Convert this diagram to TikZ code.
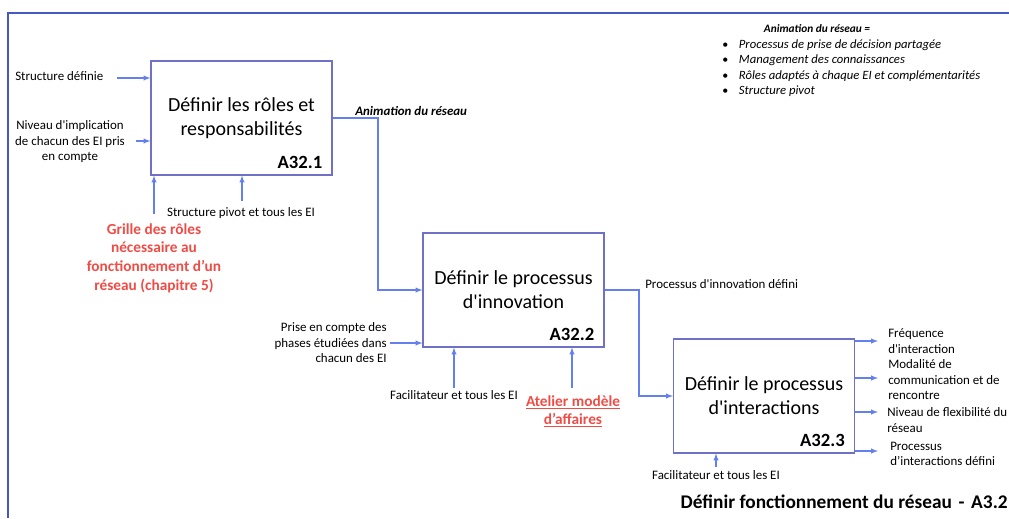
\documentclass[tikz,border=0pt]{standalone}
\usepackage{fontspec}
\setmainfont{Carlito}
\usepackage{tikz}
\usetikzlibrary{positioning}
\usetikzlibrary{arrows}
\usetikzlibrary{calc}

\definecolor{boxblue}{RGB}{112,112,200}
\definecolor{arrowblue}{RGB}{100,128,240}
\definecolor{frameblue}{RGB}{70,88,196}
\definecolor{refred}{RGB}{240,76,70}
\newcommand{\sq}{\textquotesingle}

\begin{document}
\begin{tikzpicture}[x=0.75pt,y=-0.75pt,>=latex,
  activity/.style={draw=boxblue,line width=0.8pt,minimum width=135.75pt,minimum height=85.5pt,inner sep=0pt,align=center,font=\fontsize{15}{18}\selectfont},
  code/.style={anchor=base east,inner sep=0pt,font=\fontsize{14}{16}\selectfont\bfseries},
  small/.style={inner sep=0pt,align=center,font=\fontsize{9.7}{11.6}\selectfont},
  source/.style={inner sep=0pt,align=center,text=refred,font=\fontsize{11.5}{14}\selectfont\bfseries},
  flow/.style={->,draw=arrowblue,line width=0.8pt}]

  \useasboundingbox (0,0) rectangle (1009,518);
  \draw[frameblue,line width=1.5pt] (8,518) -- (8,12.5) -- (1009,12.5);

  % activities
  \node[activity] (roles) at (241.5,118) {Définir les rôles et\\responsabilités};
  \node[activity] (innov) at (513.5,290) {Définir le processus\\d\sq innovation};
  \node[activity] (inter) at (764,396) {Définir le processus\\d\sq interactions};
  \node[code] (roles num) at ($(roles.south east)+(-10,-7)$) {A32.1};
  \node[code] (innov num) at ($(innov.south east)+(-10,-7)$) {A32.2};
  \node[code] (inter num) at ($(inter.south east)+(-10,-7)$) {A32.3};

  % A32.1
  \node[small,anchor=west] (struct) at (15,76) {Structure définie};
  \coordinate (struct in) at (117,78);
  \draw[flow] (struct in) -- (struct in -| roles.west);
  \node[small] (implic) at (70,142) {Niveau d\sq implication\\de chacun des EI pris\\en compte};
  \coordinate (implic in) at (136,141);
  \draw[flow] (implic in) -- (implic in -| roles.west);
  \node[source,anchor=north] (grille) at (154,223) {Grille des rôles\\nécessaire au\\fonctionnement d’un\\réseau (chapitre 5)};
  \coordinate (grille in) at (154,214);
  \draw[flow] (grille in) -- (grille in |- roles.south);
  \node[small] (pivot) at (241,213) {Structure pivot et tous les EI};
  \coordinate (pivot in) at (242,201);
  \draw[flow] (pivot in) -- (pivot in |- roles.south);
  \node[small,anchor=west,font=\fontsize{9.7}{11.6}\selectfont\bfseries\itshape] (anim) at (355,111) {Animation du réseau};
  \coordinate (j1) at (378,0);
  \draw[flow] (roles.east) -| (j1 |- innov.west) -- (innov.west);

  % A32.2
  \node[small,anchor=east,align=right] (phases) at (387,343) {Prise en compte des\\phases étudiées dans\\chacun des EI};
  \coordinate (phases in) at (390,343);
  \draw[flow] (phases in) -- (phases in -| innov.west);
  \node[small] (facil1) at (454,395) {Facilitateur et tous les EI};
  \coordinate (facil1 in) at (454,388);
  \draw[flow] (facil1 in) -- (facil1 in |- innov.south);
  \node[source,anchor=north] (atelier) at (573,395) {\underline{Atelier modèle}\\\underline{d’affaires}};
  \coordinate (atelier in) at (572,388);
  \draw[flow] (atelier in) -- (atelier in |- innov.south);
  \node[small,anchor=west] (innovdef) at (645,284) {Processus d\sq innovation défini};
  \coordinate (j2) at (639,0);
  \draw[flow] (innov.east) -| (j2 |- inter.west) -- (inter.west);

  % A32.3
  \node[small] (facil2) at (716,475) {Facilitateur et tous les EI};
  \coordinate (facil2 in) at (716,467);
  \draw[flow] (facil2 in) -- (facil2 in |- inter.south);
  \node[small,anchor=west,align=left] (freq) at (888,341) {Fréquence\\d\sq interaction};
  \node[small,anchor=west,align=left] (modal) at (888,380) {Modalité de\\communication et de\\rencontre};
  \node[small,anchor=west,align=left] (flex) at (887,420) {Niveau de flexibilité du\\réseau};
  \node[small,anchor=west,align=left] (interdef) at (890,454) {Processus\\d’interactions défini};
  \foreach \y in {341,378,412,451}
    \draw[flow] (inter.east |- 0,\y) -- (878,\y);

  % note
  \node[small,font=\fontsize{8.5}{11.6}\selectfont\bfseries\itshape] (note) at (817,29) {Animation du réseau =};
  \node[small,anchor=north west,align=left,font=\fontsize{9.5}{11.7}\selectfont\itshape] (items) at (722,39)
    {\makebox[12.5pt][l]{\upshape\small\textbullet}Processus de prise de décision partagée\\
     \makebox[12.5pt][l]{\upshape\small\textbullet}Management des connaissances\\
     \makebox[12.5pt][l]{\upshape\small\textbullet}Rôles adaptés à chaque EI et complémentarités\\
     \makebox[12.5pt][l]{\upshape\small\textbullet}Structure pivot};

  \node[anchor=base east,inner sep=0pt,font=\fontsize{14.5}{17}\selectfont\bfseries] (title) at (1008,508) {Définir fonctionnement du réseau\hspace{5pt}-\hspace{5pt}A3.2};
\end{tikzpicture}
\end{document}
